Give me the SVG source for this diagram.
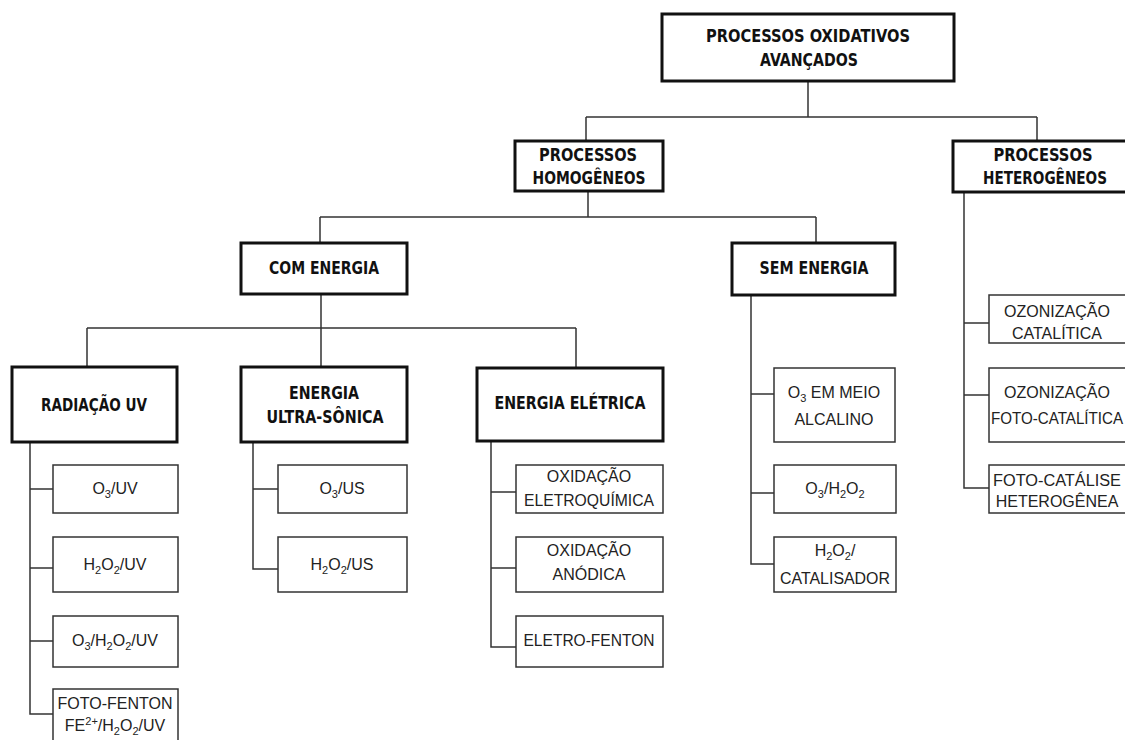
<svg xmlns="http://www.w3.org/2000/svg" width="1125" height="740" viewBox="0 0 1125 740">
<style>
.bg{fill:#ffffff}
.tb{fill:#ffffff;stroke:#111111;stroke-width:3}
.sb{fill:#ffffff;stroke:#333333;stroke-width:1.5}
.tt{font-family:"Liberation Sans Narrow","DejaVu Sans Condensed","Liberation Sans",Arial,sans-serif;font-weight:bold;font-size:18px;fill:#111111;text-anchor:middle}
.st{font-family:"Liberation Sans",Arial,sans-serif;font-size:16px;fill:#222222;text-anchor:middle}
.sub{font-size:11px}
.cn{fill:none;stroke:#333333;stroke-width:1.5}
</style>
<rect class="bg" x="0" y="0" width="1125" height="740"/>
<g id="connectors">
<path class="cn" d="M808,81 V117 M586,117 H1037 M586,117 V141 M1037,117 V141"/>
<path class="cn" d="M588,191 V217 M320,217 H816 M320,217 V243 M816,217 V243"/>
<path class="cn" d="M321,294 V328 M87,328 H576 M87,328 V367 M321,328 V367 M576,328 V368"/>
<path class="cn" d="M30,442 V714 H53 M30,489 H53 M30,568 H53 M30,641 H53"/>
<path class="cn" d="M253,442 V569 H278 M253,489 H278"/>
<path class="cn" d="M491,441 V647 H516 M491,492 H516 M491,568 H516"/>
<path class="cn" d="M751,295 V564 H774 M751,394 H774 M751,493 H774"/>
<path class="cn" d="M964,192 V488 H989 M964,323 H989 M964,395 H989"/>
</g>
<g id="n-poa">
<rect class="tb" x="662" y="14" width="292" height="67"/>
<text class="tt" x="808" y="42" textLength="204" lengthAdjust="spacingAndGlyphs">PROCESSOS OXIDATIVOS</text>
<text class="tt" x="809" y="66" textLength="98" lengthAdjust="spacingAndGlyphs">AVANÇADOS</text>
</g>
<g id="n-hom">
<rect class="tb" x="515" y="141" width="148" height="50"/>
<text class="tt" x="588" y="161" textLength="98" lengthAdjust="spacingAndGlyphs">PROCESSOS</text>
<text class="tt" x="589" y="184" textLength="113" lengthAdjust="spacingAndGlyphs">HOMOGÊNEOS</text>
</g>
<g id="n-het">
<rect class="tb" x="953" y="141" width="185" height="51"/>
<text class="tt" x="1043" y="161" textLength="99" lengthAdjust="spacingAndGlyphs">PROCESSOS</text>
<text class="tt" x="1045" y="184" textLength="124" lengthAdjust="spacingAndGlyphs">HETEROGÊNEOS</text>
</g>
<g id="n-com">
<rect class="tb" x="241" y="243" width="166" height="51"/>
<text class="tt" x="324" y="274" textLength="110" lengthAdjust="spacingAndGlyphs">COM ENERGIA</text>
</g>
<g id="n-sem">
<rect class="tb" x="732" y="243" width="163" height="52"/>
<text class="tt" x="814" y="274" textLength="109" lengthAdjust="spacingAndGlyphs">SEM ENERGIA</text>
</g>
<g id="n-ruv">
<rect class="tb" x="12" y="367" width="165" height="75"/>
<text class="tt" x="94" y="411" textLength="106" lengthAdjust="spacingAndGlyphs">RADIAÇÃO UV</text>
</g>
<g id="n-eus">
<rect class="tb" x="241" y="367" width="166" height="75"/>
<text class="tt" x="324" y="399" textLength="70" lengthAdjust="spacingAndGlyphs">ENERGIA</text>
<text class="tt" x="325" y="423" textLength="117" lengthAdjust="spacingAndGlyphs">ULTRA-SÔNICA</text>
</g>
<g id="n-eel">
<rect class="tb" x="477" y="368" width="186" height="73"/>
<text class="tt" x="570" y="409" textLength="151" lengthAdjust="spacingAndGlyphs">ENERGIA ELÉTRICA</text>
</g>
<g id="n-o3uv">
<rect class="sb" x="53" y="465" width="125" height="48"/>
<text class="st" x="115" y="494">O<tspan class="sub" dy="4">3</tspan><tspan dy="-4">/UV</tspan></text>
</g>
<g id="n-h2o2uv">
<rect class="sb" x="53" y="537" width="125" height="55"/>
<text class="st" x="115" y="570">H<tspan class="sub" dy="4">2</tspan><tspan dy="-4">O</tspan><tspan class="sub" dy="4">2</tspan><tspan dy="-4">/UV</tspan></text>
</g>
<g id="n-o3h2o2uv">
<rect class="sb" x="53" y="616" width="125" height="51"/>
<text class="st" x="115" y="646">O<tspan class="sub" dy="4">3</tspan><tspan dy="-4">/H</tspan><tspan class="sub" dy="4">2</tspan><tspan dy="-4">O</tspan><tspan class="sub" dy="4">2</tspan><tspan dy="-4">/UV</tspan></text>
</g>
<g id="n-fotofenton">
<rect class="sb" x="53" y="689" width="125" height="60"/>
<text class="st" x="115" y="709">FOTO-FENTON</text>
<text class="st" x="115" y="731">FE<tspan class="sub" dy="-6">2+</tspan><tspan dy="6">/H</tspan><tspan class="sub" dy="4">2</tspan><tspan dy="-4">O</tspan><tspan class="sub" dy="4">2</tspan><tspan dy="-4">/UV</tspan></text>
</g>
<g id="n-o3us">
<rect class="sb" x="278" y="465" width="129" height="48"/>
<text class="st" x="342" y="494">O<tspan class="sub" dy="4">3</tspan><tspan dy="-4">/US</tspan></text>
</g>
<g id="n-h2o2us">
<rect class="sb" x="278" y="537" width="129" height="55"/>
<text class="st" x="342" y="570">H<tspan class="sub" dy="4">2</tspan><tspan dy="-4">O</tspan><tspan class="sub" dy="4">2</tspan><tspan dy="-4">/US</tspan></text>
</g>
<g id="n-oxeletro">
<rect class="sb" x="516" y="465" width="147" height="48"/>
<text class="st" x="589" y="482">OXIDAÇÃO</text>
<text class="st" x="589" y="506" textLength="130" lengthAdjust="spacingAndGlyphs">ELETROQUÍMICA</text>
</g>
<g id="n-oxanod">
<rect class="sb" x="516" y="537" width="147" height="55"/>
<text class="st" x="589" y="556">OXIDAÇÃO</text>
<text class="st" x="589" y="580">ANÓDICA</text>
</g>
<g id="n-eletrofenton">
<rect class="sb" x="516" y="616" width="147" height="51"/>
<text class="st" x="589" y="646" textLength="131" lengthAdjust="spacingAndGlyphs">ELETRO-FENTON</text>
</g>
<g id="n-o3alc">
<rect class="sb" x="774" y="368" width="121" height="74"/>
<text class="st" x="834" y="398">O<tspan class="sub" dy="4">3</tspan><tspan dy="-4"> EM MEIO</tspan></text>
<text class="st" x="834" y="425">ALCALINO</text>
</g>
<g id="n-o3h2o2">
<rect class="sb" x="774" y="465" width="122" height="48"/>
<text class="st" x="835" y="494">O<tspan class="sub" dy="4">3</tspan><tspan dy="-4">/H</tspan><tspan class="sub" dy="4">2</tspan><tspan dy="-4">O</tspan><tspan class="sub" dy="4">2</tspan></text>
</g>
<g id="n-h2o2cat">
<rect class="sb" x="774" y="537" width="122" height="55"/>
<text class="st" x="835" y="556">H<tspan class="sub" dy="4">2</tspan><tspan dy="-4">O</tspan><tspan class="sub" dy="4">2</tspan><tspan dy="-4">/</tspan></text>
<text class="st" x="835" y="584" textLength="110" lengthAdjust="spacingAndGlyphs">CATALISADOR</text>
</g>
<g id="n-ozcat">
<rect class="sb" x="989" y="295" width="150" height="48"/>
<text class="st" x="1057" y="317">OZONIZAÇÃO</text>
<text class="st" x="1057" y="339">CATALÍTICA</text>
</g>
<g id="n-ozfoto">
<rect class="sb" x="989" y="368" width="150" height="74"/>
<text class="st" x="1057" y="398">OZONIZAÇÃO</text>
<text class="st" x="1057" y="424" textLength="132" lengthAdjust="spacingAndGlyphs">FOTO-CATALÍTICA</text>
</g>
<g id="n-fotocat">
<rect class="sb" x="989" y="465" width="150" height="48"/>
<text class="st" x="1057" y="486" textLength="128" lengthAdjust="spacingAndGlyphs">FOTO-CATÁLISE</text>
<text class="st" x="1057" y="507">HETEROGÊNEA</text>
</g>
</svg>
